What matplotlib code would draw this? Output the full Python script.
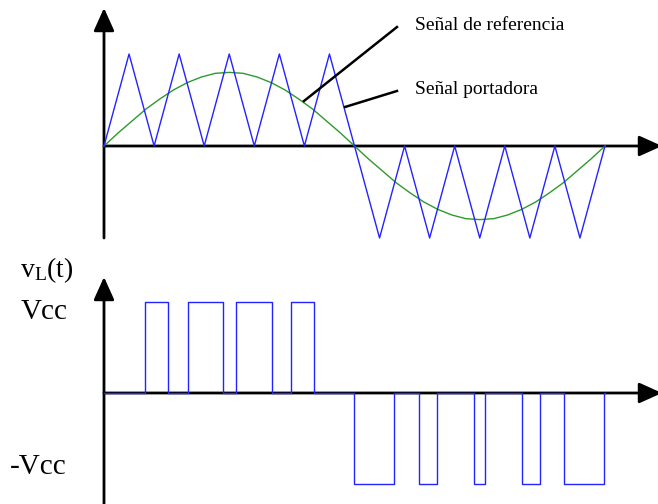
import matplotlib
matplotlib.use("Agg")
import matplotlib.pyplot as plt

plt.rcParams['font.family'] = ['Liberation Serif', 'DejaVu Serif']
plt.rcParams['mathtext.fontset'] = 'custom'
plt.rcParams['mathtext.rm'] = 'Liberation Serif'
plt.rcParams['mathtext.it'] = 'Liberation Serif:italic'

# ---------------- data (angle in degrees over one period) ----------------
carrier_t = [0, 18, 36, 54, 72, 90, 108, 126, 144, 162, 180,
             198, 216, 234, 252, 270, 288, 306, 324, 342, 360]
carrier_v = [0, 1, 0, 1, 0, 1, 0, 1, 0, 1, 0,
             -1, 0, -1, 0, -1, 0, -1, 0, -1, 0]

ref_t = [0, 10, 20, 30, 40, 50, 60, 70, 80, 90, 100, 110, 120, 130, 140, 150, 160, 170, 180,
         190, 200, 210, 220, 230, 240, 250, 260, 270, 280, 290, 300, 310, 320, 330, 340, 350, 360]
ref_v = [0, 0.14, 0.27, 0.40, 0.51, 0.61, 0.69, 0.75, 0.79, 0.80, 0.79, 0.75, 0.69, 0.61, 0.51, 0.40, 0.27, 0.14, 0,
         -0.14, -0.27, -0.40, -0.51, -0.61, -0.69, -0.75, -0.79, -0.80, -0.79, -0.75, -0.69, -0.61, -0.51, -0.40, -0.27, -0.14, 0]

# PWM pulses: (start, end) angles and level
pos_pulses = [(29.5, 46.0), (60.4, 85.5), (94.9, 120.7), (134.4, 150.9)]
neg_pulses = [(179.6, 208.4), (226.3, 239.3), (265.9, 273.8), (300.4, 313.3), (330.5, 359.3)]

label_ref = "Señal de referencia"
label_carrier = "Señal portadora"
label_vl = r"v$_{\mathrm{L}}$(t)"
label_vcc = "Vcc"
label_mvcc = "-Vcc"

# Build the PWM waveform from the pulse list
pwm_t = [0]
pwm_v = [0]
for a, b in pos_pulses:
    pwm_t += [a, a, b, b]
    pwm_v += [0, 1, 1, 0]
for a, b in neg_pulses:
    pwm_t += [a, a, b, b]
    pwm_v += [0, -1, -1, 0]
pwm_t.append(360)
pwm_v.append(0)

W, H = 658, 504
fig = plt.figure(figsize=(W / 100, H / 100), dpi=100)

kx = 501 / 360.0          # pixels per degree
x0 = 104                  # pixel of t = 0
xlim = (-x0 / kx, (W - x0) / kx)

# top axes: figure rows 0..250 px from top
ax1 = fig.add_axes([0, 1 - 250 / H, 1, 250 / H])
ky1 = 92.0
z1 = 146
ax1.set_xlim(*xlim)
ax1.set_ylim(-(250 - z1) / ky1, z1 / ky1)
ax1.axis('off')

# bottom axes: figure rows 250..504 px
ax2 = fig.add_axes([0, 0, 1, 254 / H])
ky2 = 91.0
z2 = 393 - 250
ax2.set_xlim(*xlim)
ax2.set_ylim(-(254 - z2) / ky2, z2 / ky2)
ax2.axis('off')

arrow = dict(arrowstyle='-|>,head_length=1.0,head_width=0.45', color='black', lw=2.0,
             mutation_scale=14, shrinkA=0, shrinkB=0)

# top axes arrows
ax1.annotate('', xy=(0, (146 - 8) / ky1), xytext=(0, -(238 - 146) / ky1),
             arrowprops=arrow, annotation_clip=False)
ax1.annotate('', xy=(xlim[1] + 4 / kx, 0), xytext=(0, 0),
             arrowprops=arrow, annotation_clip=False)

ax1.plot(ref_t, ref_v, color='#2e9a2e', lw=1.0, zorder=3)
ax1.plot(carrier_t, carrier_v, color='#2323ff', lw=1.0, zorder=3)

# annotation lines and labels
ax1.plot([143.7, 210.5], [0.489, 1.293], color='black', lw=1.8, zorder=4)
ax1.plot([173.2, 210.5], [0.424, 0.598], color='black', lw=1.8, zorder=4)
ax1.text(223.5, 1.315, label_ref, fontsize=14, va='center', ha='left')
ax1.text(223.5, 0.609, label_carrier, fontsize=14, va='center', ha='left')

# bottom axes arrows
ax2.annotate('', xy=(0, (393 - 277) / ky2), xytext=(0, -(504 - 393) / ky2),
             arrowprops=arrow, annotation_clip=False)
ax2.annotate('', xy=(xlim[1] + 4 / kx, 0), xytext=(0, 0),
             arrowprops=arrow, annotation_clip=False)

ax2.plot(pwm_t, pwm_v, color='#2323ff', lw=1.0, zorder=3)

ax2.text((20 - x0) / kx, (393 - 270) / ky2, label_vl, fontsize=20, va='center', ha='left')
ax2.text((21 - x0) / kx, (393 - 312) / ky2, label_vcc, fontsize=21, va='center', ha='left')
ax2.text((10 - x0) / kx, (393 - 467) / ky2, label_mvcc, fontsize=21, va='center', ha='left')

fig.savefig("out.png", dpi=100)
